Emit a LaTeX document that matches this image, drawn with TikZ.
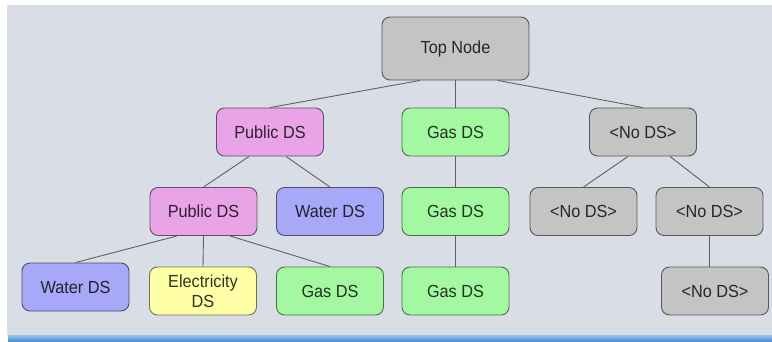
\documentclass[tikz,border=0pt]{standalone}
\usepackage{fontspec}
\setmainfont{Liberation Sans}[FakeStretch=0.93]
\usetikzlibrary{positioning}
\definecolor{panel}{HTML}{D9DEE6}
\definecolor{bar}{HTML}{4C8FD8}
\definecolor{wire}{HTML}{606060}
\definecolor{cGray}{HTML}{C4C4C4}
\definecolor{cPink}{HTML}{E9A4E7}
\definecolor{cGreen}{HTML}{A4F8A2}
\definecolor{cBlue}{HTML}{A7A8F7}
\definecolor{cYellow}{HTML}{FFFFA8}

\begin{document}
\begin{tikzpicture}[x=1pt, y=-1pt,
  font=\fontsize{17.5}{19.5}\selectfont,
    DS/.style = {draw=#1!45!black, fill=#1, text=#1!20!black,
                 rounded corners=8pt, line width=0.9pt,
                 minimum width=107pt, minimum height=48pt,
                 inner sep=2pt, align=center},
  wire/.style = {draw=wire, line width=0.9pt}
                    ]
\useasboundingbox (0,0) rectangle (772,341);
% background panel and bottom bar
\fill[panel] (7,5) rectangle (772,335);
\shade[top color=bar!55!white, bottom color=bar] (8,335) rectangle (772,341);
% top level
\node[DS=cGray, minimum width=147pt, minimum height=63pt] (top) at (455.5,48.5) {Top Node};
% first level
\node[DS=cPink]  (pub)  at (270,132)   {Public DS};
\node[DS=cGreen] (gas)  at (455.5,132) {Gas DS};
\node[DS=cGray]  (nods) at (643,132)   {<No DS>};
% second level
\node[DS=cPink]  (pubb)  at (203.5,211.5) {Public DS};
\node[DS=cBlue]  (wat)   at (330,211.5)   {Water DS};
\node[DS=cGreen] (gasb)  at (455.5,211.5) {Gas DS};
\node[DS=cGray]  (nodsl) at (583.5,211.5) {<No DS>};
\node[DS=cGray]  (nodsr) at (709.5,211.5) {<No DS>};
% third level
\node[DS=cBlue]   (watc)  at (75.5,287)  {Water DS};
\node[DS=cYellow] (elec)  at (203,291)   {Electricity\\DS};
\node[DS=cGreen]  (gasc)  at (330,291)   {Gas DS};
\node[DS=cGreen]  (gasd)  at (455.5,291) {Gas DS};
\node[DS=cGray]   (nodsc) at (715,291)   {<No DS>};
% connectors
\draw[wire] ([xshift=-35.5pt]top.south) -- (pub.north);
\draw[wire] (top.south) -- (gas.north);
\draw[wire] ([xshift=42.5pt]top.south) -- (nods.north);
\draw[wire] ([xshift=-21pt]pub.south) -- (pubb.north);
\draw[wire] ([xshift=16pt]pub.south) -- (wat.north);
\draw[wire] (gas.south) -- (gasb.north);
\draw[wire] ([xshift=-15pt]nods.south) -- (nodsl.north);
\draw[wire] ([xshift=27pt]nods.south) -- (nodsr.north);
\draw[wire] ([xshift=-26.5pt]pubb.south) -- (watc.north);
\draw[wire] (pubb.south) -- (elec.north);
\draw[wire] ([xshift=26.5pt]pubb.south) -- (gasc.north);
\draw[wire] (gasb.south) -- (gasd.north);
\draw[wire] (nodsr.south) -- (nodsr.south |- nodsc.north);
\end{tikzpicture}
\end{document}
